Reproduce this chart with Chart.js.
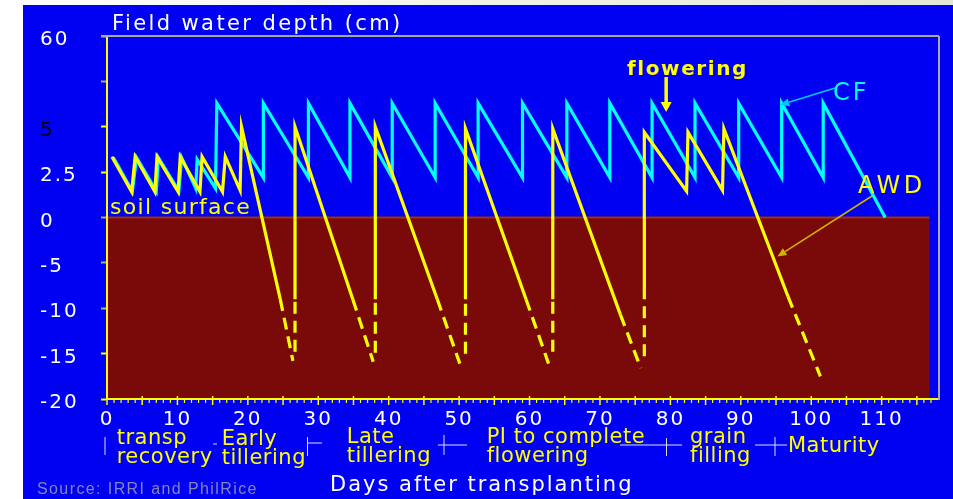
<!DOCTYPE html>
<html><head><meta charset="utf-8">
<script src="https://cdn.jsdelivr.net/npm/chart.js@4"></script>
<style>
html,body{margin:0;padding:0;background:#ffffff;width:953px;height:499px;overflow:hidden}
#band{position:absolute;left:0;top:0;width:953px;height:5px;background:linear-gradient(90deg,#ffffff,#e3e7d6)}
#wrap{position:absolute;left:23px;top:5px;width:930px;height:494px;background:#0000f2}
canvas{display:block}
</style></head><body>
<div id="band"></div>
<div id="wrap"><canvas id="c"></canvas></div>
<script>
// ---- data (days after transplanting, field water depth in cm; null = break in line)
const awdDays  = [0.7, 3.5, 4.0, 6.8, 7.1, 10.1, 10.4, 13.2, 13.5, 16.4, 16.8, 18.9, 19.1, 24.6, 26.4, 26.5,
                  26.7, 26.7, 26.7, 34.9, 37.8, 37.9,
                  38.1, 38.1, 38.1, 46.9, 50.1, 50.5,
                  50.9, 50.9, 50.9, 59.5, 62.7, 63.0,
                  63.3, 63.3, 63.3, 72.9, 75.8, 76.0,
                  76.3, 76.3, 76.3, 82.3, 82.5, 87.4, 87.6, 96.7, 101.3];
const awdDepth = [3.35, 1.42, 3.35, 1.42, 3.35, 1.42, 3.35, 1.42, 3.35, 1.42, 3.35, 1.5, 5.0, -9, -15.8, null,
                  -14.8, -9, 5.0, -9, -15.9, null,
                  -14.9, -9, 5.0, -9, -16.1, null,
                  -15.0, -9, 4.9, -9, -16.1, null,
                  -14.8, -9, 4.9, -10.7, -16.6, null,
                  -15.3, -9, 4.7, 1.45, 4.7, 1.5, 4.9, -8.7, -17.5];
const cfDays   = [0.9, 3.6, 4.2, 7.0, 7.3, 10.2, 10.6, 12.6, 12.8, 15.4, 15.6,
                  22.2, 22.2, 28.6, 28.6, 34.5, 34.5, 40.5, 40.5, 46.6, 46.6, 52.7, 52.7, 59.0, 59.0,
                  65.3, 65.3, 71.4, 71.4, 77.4, 77.4, 83.5, 83.5, 89.7, 89.7, 95.8, 95.8, 101.7, 101.7, 110.5];
const cfDepth  = [3.3, 1.45, 3.3, 1.45, 3.3, 1.45, 3.3, 1.6, 3.2, 1.6, 6.3,
                  2.2, 6.3, 2.2, 6.3, 2.2, 6.3, 2.2, 6.3, 2.2, 6.3, 2.2, 6.3, 2.2, 6.3,
                  2.2, 6.3, 2.2, 6.3, 2.2, 6.3, 2.2, 6.3, 2.2, 6.3, 2.2, 6.3, 2.2, 6.3, 0];
// axis: positive depths are drawn on a doubled scale (as in the original figure)
const yTickValues = [-20, -15, -10, -5, 0, 5, 10, 15, 20];
const yTickLabels = ['-20', '-15', '-10', '-5', '0', '2.5', '5', '', '60'];
const xMin = 0, xMax = 118, xStep = 10;
const soilEndDay = 116.8;
const seriesNames = ['AWD', 'CF'];
const phaseLabels = [['transp', 'recovery'], ['Early', 'tillering'], ['Late', 'tillering'],
                     ['PI to complete', 'flowering'], ['grain', 'filling'], ['Maturity']];

const toAxis = v => v === null ? null : (v > 0 ? v * 2 : v);
const pts = (xs, ys) => xs.map((d, i) => ({x: d, y: toAxis(ys[i])}));
const DASH_LEVEL = -8.5;
const FONT = 'DejaVu Sans';

function txt(ctx, s, x, y, font, color, ls) {
  ctx.font = font; ctx.fillStyle = color; ctx.letterSpacing = (ls || 0) + 'px';
  ctx.textAlign = 'left'; ctx.textBaseline = 'alphabetic'; ctx.fillText(s, x, y);
}
function line(ctx, x1, y1, x2, y2, color, w) {
  ctx.strokeStyle = color; ctx.lineWidth = w; ctx.beginPath(); ctx.moveTo(x1, y1); ctx.lineTo(x2, y2); ctx.stroke();
}
function arrow(ctx, x1, y1, x2, y2, color, w, head, hw) {
  const a = Math.atan2(y2 - y1, x2 - x1);
  const bx = x2 - head * Math.cos(a), by = y2 - head * Math.sin(a);
  line(ctx, x1, y1, bx, by, color, w);
  ctx.fillStyle = color; ctx.beginPath();
  ctx.moveTo(x2, y2);
  ctx.lineTo(bx + hw * Math.sin(a), by - hw * Math.cos(a));
  ctx.lineTo(bx - hw * Math.sin(a), by + hw * Math.cos(a));
  ctx.closePath(); ctx.fill();
}

const decor = {
  id: 'decor',
  beforeDraw(chart) {
    const {ctx, chartArea: a, scales: {x, y}} = chart;
    ctx.save();
    const x0 = a.left, x1 = x.getPixelForValue(soilEndDay), y0 = y.getPixelForValue(0), y1 = a.bottom;
    ctx.fillStyle = '#7a0a0a'; ctx.fillRect(x0, y0, x1 - x0, y1 - y0);
    ctx.fillStyle = '#a0300c'; ctx.fillRect(x0, y0 - 1, x1 - x0, 2);
    ctx.restore();
    ctx.letterSpacing = '2px';
  },
  afterDraw(chart) {
    const {ctx, chartArea: a, scales: {x, y}} = chart;
    ctx.save();
    // frame
    line(ctx, a.left - 6, a.top, a.right + 1, a.top, '#a8a8a8', 2);
    line(ctx, a.right + 1, a.top, a.right + 1, a.bottom + 1, '#a8a8a8', 2);
    // x-axis tick marks
    for (let d = xMin; d <= 117; d += 1) {
      const px = x.getPixelForValue(d);
      if (d % 5 === 0) line(ctx, px, a.bottom - 3, px, a.bottom + 6, '#ffff00', 1.5);
      else line(ctx, px, a.bottom, px, a.bottom + 4, '#ffff00', 1.2);
    }
    // texts
    txt(ctx, 'Field water depth (cm)', 89, 25, '21px "' + FONT + '"', '#ffffff', 2.4);
    txt(ctx, 'soil surface', 87, 209, '22px "' + FONT + '"', '#ffff00', 1.3);
    txt(ctx, 'flowering', 604, 70, 'bold 20px "' + FONT + '"', '#ffff00', 1.6);
    // flowering arrow
    const fx = x.getPixelForValue(79.4);
    arrow(ctx, fx, 72, fx, 107, '#ffff00', 3.5, 10, 5.5);
    // CF / AWD labels
    txt(ctx, seriesNames[1], 810, 95, '24px "' + FONT + '"', '#00ffff', 3);
    arrow(ctx, 812, 83, x.getPixelForValue(95.6), y.getPixelForValue(12.4), '#00c8ff', 1.5, 9, 4);
    txt(ctx, seriesNames[0], 835, 188, '24px "' + FONT + '"', '#ffff00', 3.5);
    arrow(ctx, 849, 191, x.getPixelForValue(95.2), y.getPixelForValue(-4.3), '#d2b400', 1.5, 9, 4);
    // phase labels
    const pf = '21px "' + FONT + '"', yel = '#ffff00';
    const pos = [[93.7, 439], [198.7, 440], [323.7, 438], [463.7, 438], [667, 438]];
    pos.forEach((p, i) => {
      txt(ctx, phaseLabels[i][0], p[0], p[1], pf, yel, 0.5);
      txt(ctx, phaseLabels[i][1], p[0], p[1] + 19, pf, yel, 0.5);
    });
    txt(ctx, phaseLabels[5][0], 765, 447, pf, yel, 0.5);
    // bracket marks
    const wc = '#dcdcff';
    line(ctx, 82, 432, 82, 450, wc, 1);
    line(ctx, 190, 439, 194, 439, wc, 1);
    line(ctx, 284.5, 432, 284.5, 451, wc, 1); line(ctx, 284.5, 438, 299, 438, wc, 1);
    line(ctx, 415, 440, 444, 440, wc, 1); line(ctx, 421, 430, 421, 450, wc, 1);
    line(ctx, 597, 440, 659, 440, wc, 1); line(ctx, 643.5, 433, 643.5, 451, wc, 1);
    line(ctx, 732, 440, 764, 440, wc, 1); line(ctx, 752, 432, 752, 451, wc, 1);
    // axis title & source
    txt(ctx, 'Days after transplanting', 307, 486, '21px "' + FONT + '"', '#ffffff', 2);
    txt(ctx, 'Source: IRRI and PhilRice', 14, 489, '16px "Liberation Sans"', '#8585b8', 1.4);
    ctx.restore();
  }
};

new Chart(document.getElementById('c'), {
  type: 'scatter',
  data: {
    datasets: [
      { label: seriesNames[0], data: pts(awdDays, awdDepth), showLine: true, spanGaps: false,
        borderColor: '#ffff00', borderWidth: 3.2, pointRadius: 0, borderJoinStyle: 'miter', borderCapStyle: 'butt',
        segment: { borderDash: c => (c.p0.parsed.y <= DASH_LEVEL && c.p1.parsed.y <= DASH_LEVEL) ? [12, 7] : undefined } },
      { label: seriesNames[1], data: pts(cfDays, cfDepth), showLine: true,
        borderColor: '#00ffff', borderWidth: 3.2, pointRadius: 0, borderJoinStyle: 'miter' }
    ]
  },
  options: {
    responsive: true, maintainAspectRatio: false, animation: false, devicePixelRatio: 1,
    events: [],
    layout: { padding: { left: 17, top: 31, right: 15, bottom: 0 } },
    plugins: { legend: { display: false }, tooltip: { enabled: false } },
    scales: {
      x: {
        type: 'linear', min: xMin, max: xMax,
        ticks: { stepSize: xStep, includeBounds: false, color: '#ffffff', padding: 9, maxRotation: 0, autoSkip: false,
                 font: { family: FONT, size: 20 } },
        grid: { drawOnChartArea: false, drawTicks: false },
        border: { color: '#ffff00', width: 2 },
        afterFit: s => { s.height = 100; }
      },
      y: {
        type: 'linear', min: -20, max: 20,
        afterBuildTicks: s => { s.ticks = yTickValues.map(v => ({value: v})); },
        ticks: {
          autoSkip: false, crossAlign: 'far', padding: 8, labelOffset: 4,
          callback: v => yTickLabels[yTickValues.indexOf(v)],
          color: c => (c.tick && c.tick.value === 10) ? '#000000' : '#ffffff',
          font: { family: FONT, size: 20 }
        },
        grid: { drawOnChartArea: false, drawTicks: true, tickLength: 6, tickWidth: 2,
                tickColor: c => (c.tick && [10, 5, -15, -20].includes(c.tick.value)) ? '#ffff00' : '#a8a8a8' },
        border: { color: '#ffff00', width: 2 },
        afterFit: s => { s.width = 67; }
      }
    }
  },
  plugins: [decor]
});
</script>
</body></html>
